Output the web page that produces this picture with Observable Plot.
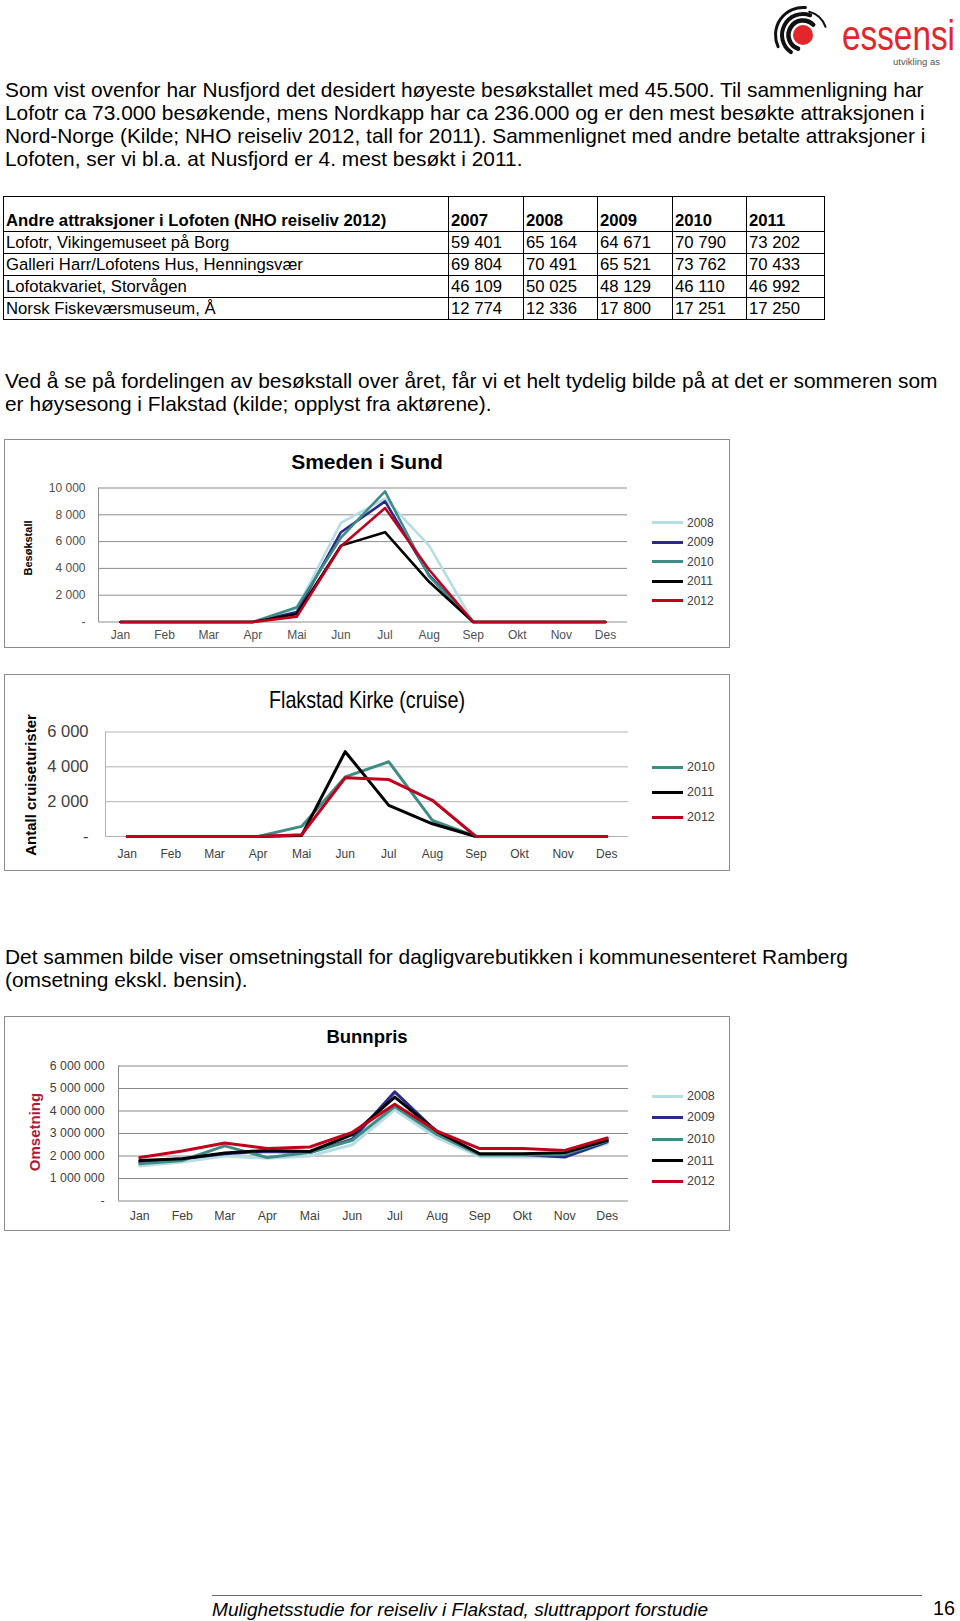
<!DOCTYPE html>
<html><head><meta charset="utf-8">
<script src="https://cdn.jsdelivr.net/npm/d3@7"></script>
<script src="https://cdn.jsdelivr.net/npm/@observablehq/plot@0.6"></script>
<style>
html,body{margin:0;padding:0;background:#fff;}
body{width:960px;height:1621px;position:relative;overflow:hidden;font-family:"Liberation Sans",Arial,sans-serif;color:#000;}
.para{position:absolute;left:5px;font-size:20.9px;line-height:23px;white-space:nowrap;}
table.t{position:absolute;left:3px;top:196px;border-collapse:collapse;table-layout:fixed;width:821px;font-size:16.7px;}
table.t td{border:1px solid #000;padding:0 0 0 2px;white-space:nowrap;overflow:hidden;line-height:17px;}
table.t tr.h td{font-weight:bold;vertical-align:bottom;padding-bottom:2px;height:32px;}
table.t tr.r td{height:21px;vertical-align:middle;}
.frame{position:absolute;left:4px;width:726px;border:1px solid #8c8c8c;box-sizing:border-box;}
.ctitle{position:absolute;transform:translate(-50%,-50%);white-space:nowrap;line-height:1;}
.ytitle{position:absolute;transform:translate(-50%,-50%) rotate(-90deg);white-space:nowrap;font-weight:bold;line-height:1;}
.leg{position:absolute;height:0;}
.leg span.sw{position:absolute;left:0;top:-1.5px;width:31px;height:3px;}
.leg span.lb{position:absolute;left:35px;top:0;transform:translateY(-50%);white-space:nowrap;line-height:1;color:#404040;}
.chart{position:absolute;left:0;}
</style>
</head>
<body>
<div id="page"></div>
<script>
// ---------- Data ----------
const months = ["Jan","Feb","Mar","Apr","Mai","Jun","Jul","Aug","Sep","Okt","Nov","Des"];
const yearColors = {"2008":"#b7dde4","2009":"#2b2a88","2010":"#3f8c85","2011":"#000000","2012":"#c0001d"};

// Table: Andre attraksjoner i Lofoten (NHO reiseliv 2012)
const tableTitle = "Andre attraksjoner i Lofoten (NHO reiseliv 2012)";
const tableYears = ["2007","2008","2009","2010","2011"];
const tableNames = ["Lofotr, Vikingemuseet på Borg","Galleri Harr/Lofotens Hus, Henningsvær","Lofotakvariet, Storvågen","Norsk Fiskeværsmuseum, Å"];
const tableLofotr = ["59 401","65 164","64 671","70 790","73 202"];
const tableGalleri = ["69 804","70 491","65 521","73 762","70 433"];
const tableAkvariet = ["46 109","50 025","48 129","46 110","46 992"];
const tableFiskevaer = ["12 774","12 336","17 800","17 251","17 250"];

// Smeden i Sund (besøkstall)
const smeden2008 = [0,0,0,0,1000,7400,9200,5700,0,0,0,0];
const smeden2009 = [0,0,0,0,750,6700,9000,3500,0,0,0,0];
const smeden2010 = [0,0,0,0,1100,6300,9750,3400,0,0,0,0];
const smeden2011 = [0,0,0,0,600,5700,6700,3000,0,0,0,0];
const smeden2012 = [0,0,0,0,400,5650,8500,3900,0,0,0,0];
const smedenTicks = [0,2000,4000,6000,8000,10000];
const smedenTickLabels = ["-","2 000","4 000","6 000","8 000","10 000"];

// Flakstad Kirke (cruise)
const kirke2010 = [0,0,0,0,580,3420,4290,920,0,0,0,0];
const kirke2011 = [0,0,0,0,60,4870,1790,730,0,0,0,0];
const kirke2012 = [0,0,0,0,100,3370,3270,2080,0,0,0,0];
const kirkeTicks = [0,2000,4000,6000];
const kirkeTickLabels = ["-","2 000","4 000","6 000"];

// Bunnpris (omsetning)
const bunn2008 = [1550000,1730000,2000000,1900000,2000000,2500000,4050000,2800000,1970000,1950000,1970000,2550000];
const bunn2009 = [1730000,1880000,2100000,2200000,2150000,2750000,4850000,3050000,2070000,2070000,1950000,2630000];
const bunn2010 = [1650000,1800000,2450000,1930000,2150000,2700000,4200000,2950000,2050000,2050000,2070000,2670000];
const bunn2011 = [1800000,1880000,2130000,2250000,2200000,2950000,4620000,3080000,2100000,2100000,2150000,2700000];
const bunn2012 = [1930000,2220000,2580000,2330000,2400000,3050000,4300000,3100000,2330000,2330000,2250000,2800000];
const bunnTicks = [0,1000000,2000000,3000000,4000000,5000000,6000000];
const bunnTickLabels = ["-","1 000 000","2 000 000","3 000 000","4 000 000","5 000 000","6 000 000"];

const FONT = '"Liberation Sans",Arial,sans-serif';

const page = document.getElementById("page");
function el(tag, cls, style, html) {
  const e = document.createElement(tag);
  if (cls) e.className = cls;
  if (style) e.setAttribute("style", style);
  if (html != null) e.innerHTML = html;
  page.appendChild(e);
  return e;
}
// narrow text (Arial Narrow look): squeeze horizontally to a target width
function squeeze(e, targetWidth, extra) {
  const w = e.getBoundingClientRect().width;
  e.style.transformOrigin = "left center";
  e.style.transform = (extra || "") + ` scaleX(${targetWidth / w})`;
}

// ---------- Logo ----------
(function(){
  const ns = "http://www.w3.org/2000/svg";
  const svg = document.createElementNS(ns, "svg");
  svg.setAttribute("width", 190); svg.setAttribute("height", 68);
  svg.setAttribute("style", "position:absolute;left:770px;top:0;");
  const cx = 33, cy = 35;
  function arc(r, a0, a1, w) {
    const p = a => [cx + r*Math.cos(a*Math.PI/180), cy + r*Math.sin(a*Math.PI/180)];
    const [x0,y0] = p(a0), [x1,y1] = p(a1);
    const large = Math.abs(a1-a0) > 180 ? 1 : 0;
    const path = document.createElementNS(ns, "path");
    path.setAttribute("d", `M${x0},${y0}A${r},${r} 0 ${large} 0 ${x1},${y1}`);
    path.setAttribute("fill","none"); path.setAttribute("stroke","#111");
    path.setAttribute("stroke-width", w); path.setAttribute("stroke-linecap","round");
    svg.appendChild(path);
  }
  arc(14.5, -45, -250, 4.5);
  arc(21, -70, -235, 4);
  arc(27.5, -85, -205, 3);
  arc(24, -20, -75, 2);
  const c = document.createElementNS(ns, "circle");
  c.setAttribute("cx", cx); c.setAttribute("cy", cy); c.setAttribute("r", 10);
  c.setAttribute("fill", "#e3262b");
  svg.appendChild(c);
  page.appendChild(svg);
  const ess = el("div", "", "position:absolute;left:842px;top:16px;font-size:42px;line-height:40px;color:#e3262b;white-space:nowrap;", "essensi");
  squeeze(ess, 113);
  el("div", "", "position:absolute;left:893px;top:57px;font-size:9.5px;line-height:10px;color:#555;white-space:nowrap;", "utvikling as");
})();

// ---------- Paragraphs ----------
el("div", "para", "top:77.5px;",
  "Som vist ovenfor har Nusfjord det desidert høyeste besøkstallet med 45.500. Til sammenligning har<br>" +
  "Lofotr ca 73.000 besøkende, mens Nordkapp har ca 236.000 og er den mest besøkte attraksjonen i<br>" +
  "Nord-Norge (Kilde; NHO reiseliv 2012, tall for 2011). Sammenlignet med andre betalte attraksjoner i<br>" +
  "Lofoten, ser vi bl.a. at Nusfjord er 4. mest besøkt i 2011.");

// ---------- Table ----------
(function(){
  const rowsData = [tableLofotr, tableGalleri, tableAkvariet, tableFiskevaer];
  let h = '<colgroup><col style="width:445px"><col style="width:75px"><col style="width:74px"><col style="width:75px"><col style="width:74px"><col style="width:78px"></colgroup>';
  h += '<tr class="h"><td>' + tableTitle + '</td>' + tableYears.map(y => '<td>' + y + '</td>').join('') + '</tr>';
  rowsData.forEach((r, i) => {
    h += '<tr class="r"><td>' + tableNames[i] + '</td>' + r.map(v => '<td>' + v + '</td>').join('') + '</tr>';
  });
  el("table", "t", "", h);
})();

el("div", "para", "top:368.8px;",
  "Ved å se på fordelingen av besøkstall over året, får vi et helt tydelig bilde på at det er sommeren som<br>" +
  "er høysesong i Flakstad (kilde; opplyst fra aktørene).");

el("div", "para", "top:944.5px;",
  "Det sammen bilde viser omsetningstall for dagligvarebutikken i kommunesenteret Ramberg<br>" +
  "(omsetning ekskl. bensin).");

// ---------- Charts ----------
function lineChart(o) {
  const rows = [];
  o.series.forEach(s => s.values.forEach((v, i) => rows.push({m: i + 1, v, year: s.year})));
  const xTicks = months.map((_, i) => i + 1);
  const xDomain = [0.5, months.length + 0.5];
  const plot = Plot.plot({
    width: o.width, height: o.height,
    marginLeft: o.ml, marginRight: o.mr, marginTop: o.mt, marginBottom: o.mb,
    style: {background: "transparent", fontFamily: FONT, fontSize: o.xFont + "px", color: o.tickColor, overflow: "visible"},
    x: {domain: xDomain, axis: null},
    y: {domain: [o.yTicks[0], o.yTicks[o.yTicks.length - 1]], axis: null},
    color: {type: "ordinal", domain: o.series.map(s => s.year), range: o.series.map(s => yearColors[s.year])},
    marks: [
      Plot.ruleY(o.yTicks, {stroke: o.gridColor, strokeWidth: 1}),
      Plot.ruleX([xDomain[0]], {stroke: o.gridColor, strokeWidth: 1}),
      Plot.line(rows, {x: "m", y: "v", z: "year", stroke: "year", strokeWidth: o.lw, strokeLinejoin: "round"}),
      Plot.axisX(xTicks, {label: null, tickSize: 0, tickPadding: o.xPad, tickFormat: d => months[d - 1], fontSize: o.xFont, fill: o.tickColor}),
      Plot.axisY(o.yTicks, {label: null, tickSize: 0, tickPadding: o.yPad, tickFormat: d => o.yLabels[o.yTicks.indexOf(d)], fontSize: o.yFont, fill: o.tickColor})
    ]
  });
  const wrap = el("div", "chart", `top:${o.top}px;`);
  wrap.appendChild(plot);
  o.series.forEach((s, i) => {
    const lg = el("div", "leg", `left:${o.legX}px;top:${o.legY[i]}px;`);
    lg.innerHTML = `<span class="sw" style="background:${yearColors[s.year]}"></span><span class="lb" style="font-size:${o.legFont}px">${s.year}</span>`;
  });
}

// Chart 1: Smeden i Sund
el("div", "frame", "top:439px;height:209px;");
el("div", "ctitle", "left:367px;top:461px;font-size:21px;font-weight:bold;", "Smeden i Sund");
el("div", "ytitle", "left:28px;top:548px;font-size:11px;", "Besøkstall");
lineChart({
  top: 470, width: 640, height: 175, ml: 98, mr: 13, mt: 17.5, mb: 23.5,
  series: [
    {year: "2008", values: smeden2008}, {year: "2009", values: smeden2009},
    {year: "2010", values: smeden2010}, {year: "2011", values: smeden2011},
    {year: "2012", values: smeden2012}],
  yTicks: smedenTicks, yLabels: smedenTickLabels,
  gridColor: "#8e8e8e", lw: 2.6, xFont: 12, yFont: 12, tickColor: "#505050",
  xPad: 8, yPad: 13,
  legX: 652, legY: [522.5, 542, 561.5, 581, 600.5], legFont: 12
});

// Chart 2: Flakstad Kirke (cruise)
el("div", "frame", "top:674px;height:197px;");
const t2 = el("div", "", "position:absolute;left:269px;top:687px;font-size:24px;line-height:26px;white-space:nowrap;", "Flakstad Kirke (cruise)");
squeeze(t2, 196);
el("div", "ytitle", "left:30px;top:785px;font-size:15px;", "Antall cruiseturister");
lineChart({
  top: 710, width: 640, height: 160, ml: 105, mr: 12, mt: 21.5, mb: 34,
  series: [
    {year: "2010", values: kirke2010}, {year: "2011", values: kirke2011},
    {year: "2012", values: kirke2012}],
  yTicks: kirkeTicks, yLabels: kirkeTickLabels,
  gridColor: "#b4b4b4", lw: 3, xFont: 12, yFont: 16.5, tickColor: "#404040",
  xPad: 13, yPad: 17,
  legX: 652, legY: [767, 792, 817], legFont: 12.5
});

// Chart 3: Bunnpris
el("div", "frame", "top:1016px;height:215px;");
el("div", "ctitle", "left:367px;top:1037px;font-size:18.5px;font-weight:bold;", "Bunnpris");
el("div", "ytitle", "left:34px;top:1131.5px;font-size:15px;color:#b0193a;", "Omsetning");
lineChart({
  top: 1050, width: 640, height: 178, ml: 118, mr: 12, mt: 15.5, mb: 27.5,
  series: [
    {year: "2008", values: bunn2008}, {year: "2009", values: bunn2009},
    {year: "2010", values: bunn2010}, {year: "2011", values: bunn2011},
    {year: "2012", values: bunn2012}],
  yTicks: bunnTicks, yLabels: bunnTickLabels,
  gridColor: "#8a8a8a", lw: 3, xFont: 12.3, yFont: 12.3, tickColor: "#404040",
  xPad: 10, yPad: 14,
  legX: 652, legY: [1096, 1117, 1139, 1160.5, 1181], legFont: 12.5
});

// ---------- Footer ----------
el("div", "", "position:absolute;left:212px;top:1594.5px;width:710px;height:0;border-top:1.5px solid #6a6a6a;");
const ft = el("div", "", "position:absolute;left:212px;top:1599px;font-size:19px;line-height:22px;font-style:italic;white-space:nowrap;", "Mulighetsstudie for reiseliv i Flakstad, sluttrapport forstudie");
squeeze(ft, 496);
const pg = el("div", "", "position:absolute;left:933px;top:1597px;font-size:21px;line-height:22px;white-space:nowrap;", "16");
squeeze(pg, 22);
</script>
</body></html>
